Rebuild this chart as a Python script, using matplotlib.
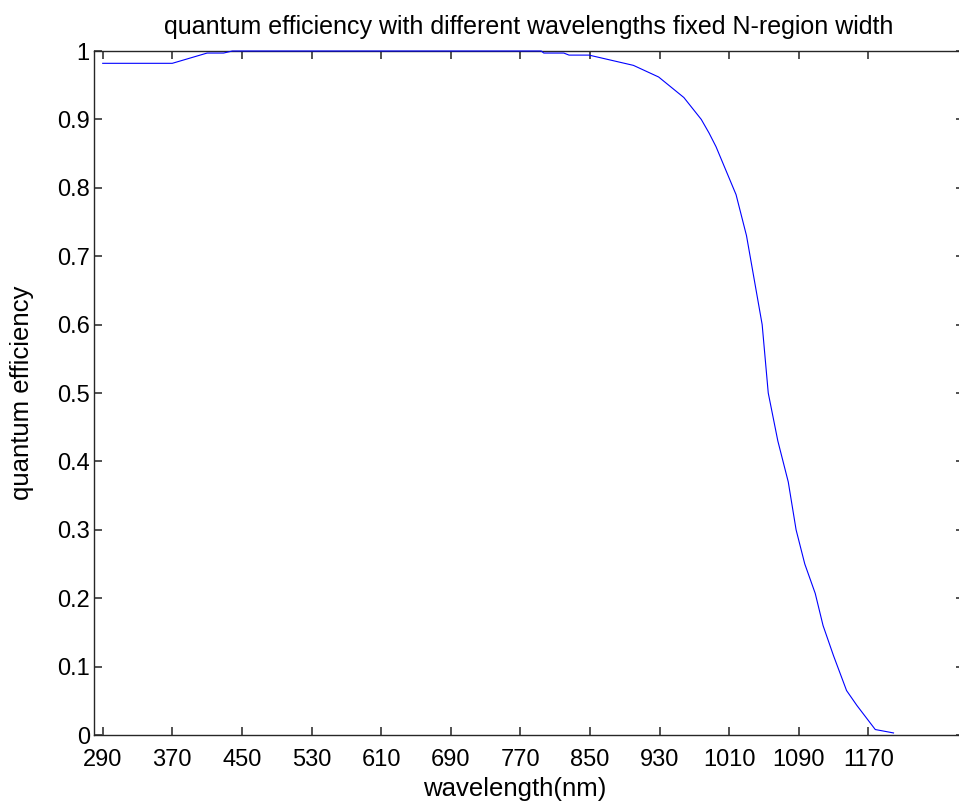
import matplotlib
matplotlib.use("Agg")
import matplotlib.pyplot as plt

# wavelength (nm) and quantum efficiency samples
wavelength = [290, 370, 410, 429, 439, 794, 797, 820, 826, 849, 900, 929, 958,
              978, 987, 995, 1018, 1030, 1048, 1055, 1066, 1078, 1087, 1097,
              1109, 1118, 1130, 1145, 1157, 1178, 1199]
efficiency = [0.982, 0.982, 0.997, 0.997, 1.0, 1.0, 0.997, 0.997, 0.994, 0.994,
              0.979, 0.962, 0.932, 0.90, 0.88, 0.86, 0.79, 0.73, 0.60, 0.50,
              0.43, 0.37, 0.30, 0.25, 0.207, 0.16, 0.116, 0.065, 0.043, 0.008,
              0.003]

xticks = [290, 370, 450, 530, 610, 690, 770, 850, 930, 1010, 1090, 1170]
yticks = [0, 0.1, 0.2, 0.3, 0.4, 0.5, 0.6, 0.7, 0.8, 0.9, 1]
ytick_labels = ["0", "0.1", "0.2", "0.3", "0.4", "0.5", "0.6", "0.7", "0.8", "0.9", "1"]

plt.rcParams["font.family"] = ["Liberation Sans", "DejaVu Sans"]

W, H = 959, 809
fig = plt.figure(figsize=(W / 100, H / 100), dpi=100)
ax = fig.add_axes([94 / W, (H - 735) / H, 870 / W, 684 / H])

ax.plot(wavelength, efficiency, color="#0000ff", linewidth=0.8,
        clip_on=False, zorder=5)

ax.set_xlim(280, 1280)
ax.set_ylim(0, 1)
ax.set_xticks(xticks)
ax.set_xticklabels([str(t) for t in xticks])
ax.set_yticks(yticks)
ax.set_yticklabels(ytick_labels)

ax.tick_params(axis="both", direction="in", length=6, width=1.2, color="#333333",
               labelsize=17, top=True, right=True)
ax.tick_params(axis="x", pad=10)
ax.tick_params(axis="y", pad=3)
for s in ax.spines.values():
    s.set_linewidth(1.0)
    s.set_color("#262626")
ax.spines["right"].set_visible(False)

ax.set_title("quantum efficiency with different wavelengths fixed N-region width",
             fontsize=18, pad=12)
ax.set_xlabel("wavelength(nm)", fontsize=18.5)
ax.set_ylabel("quantum efficiency", fontsize=18.5)
ax.xaxis.set_label_coords((515 - 94) / 870, (735 - 789) / 684)
ax.yaxis.set_label_coords((22 - 94) / 870, 0.5)
ax.xaxis.label.set_va("center")
ax.yaxis.label.set_va("center")

fig.savefig("out.png", dpi=100)
